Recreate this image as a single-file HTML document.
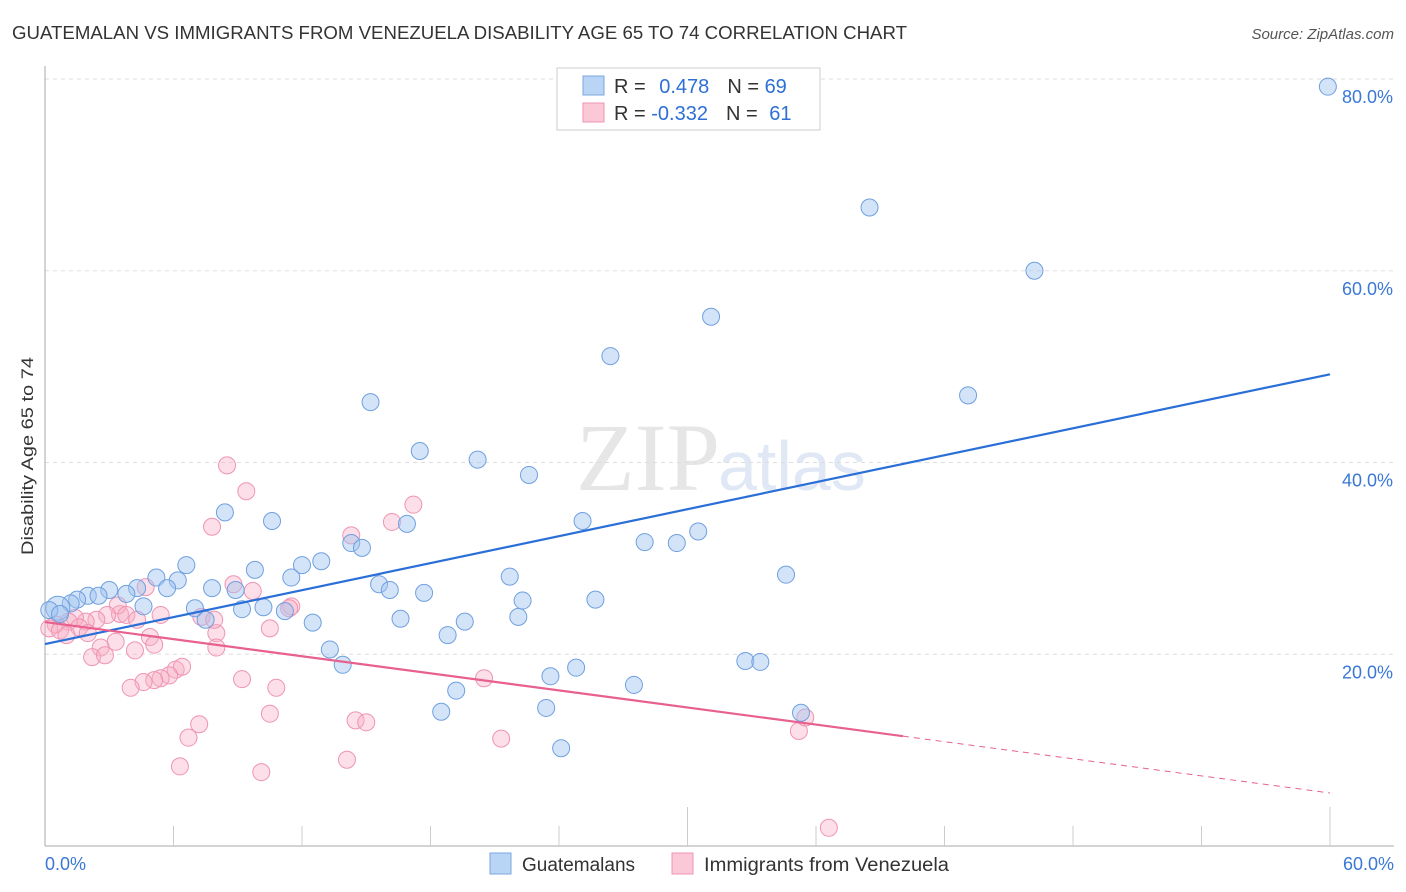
<!DOCTYPE html>
<html><head><meta charset="utf-8"><style>
body{margin:0;background:#fff;font-family:"Liberation Sans",sans-serif}
svg{display:block}
</style></head><body>
<svg id="c" width="1406" height="892">
<text x="12" y="39" font-size="18" fill="#333" textLength="895" lengthAdjust="spacingAndGlyphs">GUATEMALAN VS IMMIGRANTS FROM VENEZUELA DISABILITY AGE 65 TO 74 CORRELATION CHART</text>
<text x="1394" y="39" font-size="15" fill="#555" font-style="italic" text-anchor="end">Source: ZipAtlas.com</text>
<text x="720" y="490" font-size="96" fill="#e6e6e6" text-anchor="end" font-family="Liberation Serif,serif">ZIP</text>
<text x="718" y="490" font-size="70" fill="#dfe8f4">atlas</text>
<text transform="translate(33,456) rotate(-90)" font-size="17" fill="#333" text-anchor="middle" textLength="198" lengthAdjust="spacingAndGlyphs">Disability Age 65 to 74</text>
<g id="grid"></g><g id="pts"></g><g id="lines"></g>
<g>
<rect x="557" y="68" width="263" height="62" fill="#fff" stroke="#ccc"/>
<rect x="583" y="76" width="21" height="19" fill="#b9d4f5" stroke="#7aa7e0"/>
<rect x="583" y="103" width="21" height="19" fill="#fbc8d8" stroke="#ef94b3"/>
<text x="614" y="93" font-size="20" fill="#333">R = <tspan fill="#2e6fd6" dx="8">0.478</tspan><tspan dx="18">N = </tspan><tspan fill="#2e6fd6">69</tspan></text>
<text x="614" y="120" font-size="20" fill="#333">R = <tspan fill="#2e6fd6">-0.332</tspan><tspan dx="18">N = </tspan><tspan fill="#2e6fd6" dx="6">61</tspan></text>
</g>
<g>
<rect x="490" y="853" width="21" height="21" fill="#b9d4f5" stroke="#7aa7e0"/>
<text x="522" y="871" font-size="19" fill="#333">Guatemalans</text>
<rect x="672" y="853" width="21" height="21" fill="#fbc8d8" stroke="#ef94b3"/>
<text x="704" y="871" font-size="19" fill="#333" textLength="245" lengthAdjust="spacingAndGlyphs">Immigrants from Venezuela</text>
</g>
</svg>
<script>
const blueX=[59.9,38.5,46.2,31.1,26.4,43.1,15.2,17.5,20.2,22.6,8.4,10.6,16.9,25.1,30.5,28.0,29.5,14.3,14.8,12.9,12.0,6.6,9.8,21.7,34.6,5.2,6.2,11.5,15.6,16.1,7.8,8.9,4.3,5.7,3.0,2.0,3.8,2.5,1.5,1.2,17.7,25.7,22.3,4.6,7.0,9.2,10.2,11.2,7.5,16.6,22.1,12.5,19.6,18.8,13.3,13.9,32.7,33.4,24.8,23.6,19.2,27.5,18.5,23.4,35.3,24.1,0.6,0.2,0.7];
const blueY=[79.2,66.6,60.0,55.2,51.1,47.0,46.3,41.2,40.3,38.7,34.8,33.9,33.6,33.9,32.8,31.7,31.6,31.6,31.1,29.7,29.3,29.3,28.8,28.1,28.3,28.0,27.7,28.0,27.3,26.7,26.9,26.7,26.9,26.9,26.7,26.1,26.3,26.1,25.7,25.3,26.4,25.7,25.6,25.0,24.8,24.7,24.9,24.5,23.6,23.7,23.9,23.3,23.4,22.0,20.5,18.9,19.3,19.2,18.6,17.7,16.2,16.8,14.0,14.4,13.9,10.2,24.8,24.6,24.2];
const pinkX=[8.5,9.4,7.8,17.2,16.2,14.3,4.7,8.8,9.7,5.4,3.5,3.4,3.8,2.9,4.3,2.4,1.9,1.4,1.1,0.5,0.2,0.7,1.6,2.0,1.0,8.0,10.5,11.5,4.9,3.3,2.6,2.2,2.8,4.2,5.1,8.0,6.1,6.4,5.8,5.4,5.1,4.6,4.0,9.2,10.8,20.5,7.2,6.7,10.5,14.5,15.0,14.1,6.3,10.1,21.3,35.2,35.5,36.6,7.3,11.4,7.9];
const pinkY=[39.7,37.0,33.3,35.6,33.8,32.4,27.0,27.3,26.6,24.1,24.2,25.1,24.1,24.1,23.6,23.6,23.4,23.8,23.4,23.1,22.7,22.5,22.8,22.2,22.0,22.2,22.7,25.0,21.8,21.3,20.7,19.7,19.9,20.4,21.0,20.7,18.4,18.7,17.8,17.5,17.3,17.1,16.5,17.4,16.5,17.5,12.7,11.3,13.8,13.1,12.9,9.0,8.3,7.7,11.2,12.0,13.4,1.9,23.9,24.8,23.6];
const blueTrend=[21.06,49.2];
const pinkTrend=[23.36,5.53];
const pinkSolidEnd=40.06;
const yTicks=[20,40,60,80];
const xTickCount=10;
const NS="http://www.w3.org/2000/svg";
const X0=45,X1=1330,Y0=846,PXY=9.5875;
const sx=v=>X0+v*(X1-X0)/60, sy=v=>Y0-v*PXY;
function mk(tag,attrs,parent){const e=document.createElementNS(NS,tag);for(const k in attrs)e.setAttribute(k,attrs[k]);parent.appendChild(e);return e;}
const grid=document.getElementById('grid');
yTicks.forEach(t=>{
 const l=mk('line',{x1:X0,x2:1394,y1:sy(t),y2:sy(t),stroke:'#ddd','stroke-dasharray':'4,4'},grid);
 
 
 const tx=mk('text',{x:1393,y:sy(t)+24,'font-size':18,fill:'#3a78d6','text-anchor':'end'},grid);
 tx.textContent=t.toFixed(1)+'%';
 
 
});
const ax=mk('line',{x1:X0,x2:1394,y1:Y0,y2:Y0,stroke:'#aaa'},grid);


const ay=mk('line',{x1:X0,x2:X0,y1:66,y2:Y0,stroke:'#aaa'},grid);


for(let i=1;i<=xTickCount;i++){
 const x=sx(i*6);
 const tk=mk('line',{x1:x,x2:x,y1:(i==5||i==10)?807:826,y2:Y0,stroke:'#ccc'},grid);
 
 
}
[[0,'0.0%','start',45],[60,'60.0%','end',1394]].forEach(a=>{
 const t=mk('text',{x:a[3],y:870,'font-size':18,fill:'#3a78d6','text-anchor':a[2]},grid);
 t.textContent=a[1];
 
 
});
const pts=document.getElementById('pts');
pinkX.forEach((v,i)=>{
 const c=mk('circle',{cx:sx(v),cy:sy(pinkY[i]),r:8.5,fill:'rgba(248,175,198,0.4)',stroke:'#ef94b3','stroke-width':1},pts);
 
 
});
blueX.forEach((v,i)=>{
 const c=mk('circle',{cx:sx(v),cy:sy(blueY[i]),r:(i==66?12:8.5),fill:'rgba(160,196,240,0.45)',stroke:'#6fa0e0','stroke-width':1},pts);
 
 
});
const lines=document.getElementById('lines');
const bl=mk('line',{x1:sx(0),y1:sy(blueTrend[0]),x2:sx(60),y2:sy(blueTrend[1]),stroke:'#2a6fd8','stroke-width':2.2},lines);


const pAt=x=>pinkTrend[0]+(pinkTrend[1]-pinkTrend[0])*x/60;
const pl=mk('line',{x1:sx(0),y1:sy(pAt(0)),x2:sx(pinkSolidEnd),y2:sy(pAt(pinkSolidEnd)),stroke:'#e8608e','stroke-width':2.2},lines);


const pd=mk('line',{x1:sx(pinkSolidEnd),y1:sy(pAt(pinkSolidEnd)),x2:sx(60),y2:sy(pAt(60)),stroke:'#e8608e','stroke-width':1,'stroke-dasharray':'6,5'},lines);


</script>
</body></html>
